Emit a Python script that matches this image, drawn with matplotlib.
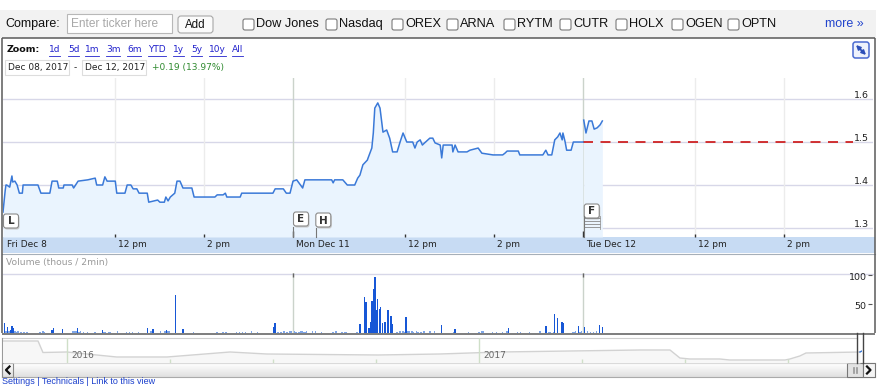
import numpy as np
import matplotlib.pyplot as plt
from matplotlib.patches import Rectangle, FancyBboxPatch

plt.rcParams['font.family'] = ['DejaVu Sans']

# ---- data (minutes since Fri 9:30, 390 per session) ----
sess_t = [0, 3, 4, 5, 9, 12, 13, 16, 19, 22, 26, 27, 47, 51, 63, 66, 73, 75, 81, 82, 93, 95, 101, 114,
          124, 126, 134, 137, 140, 151, 153, 164, 167, 172, 175, 180, 183, 194, 196, 208, 211, 217,
          219, 222, 225, 231, 234, 238, 242, 254, 257, 285, 288, 296, 299, 301, 319, 321, 363, 366,
          377, 381, 386, 390,
          395, 403, 406, 442, 444, 446, 457, 463, 473, 477, 480, 484, 490, 491, 496, 498, 500, 504,
          507, 511, 516, 520, 524, 530, 534, 538, 543, 551, 554, 557, 561, 564, 567, 574, 578, 581,
          588, 590, 592, 604, 605, 608, 612, 624, 628, 639, 644, 659, 672, 675, 678, 693, 695, 726,
          730, 733, 738, 742, 746, 749, 752, 753, 756, 758, 764, 767, 780]
sess_p = [1.337, 1.388, 1.400, 1.400, 1.395, 1.421, 1.407, 1.409, 1.400, 1.381, 1.381, 1.400, 1.400,
          1.381, 1.381, 1.409, 1.409, 1.393, 1.393, 1.400, 1.400, 1.393, 1.409, 1.412, 1.416, 1.400,
          1.400, 1.419, 1.409, 1.409, 1.381, 1.381, 1.400, 1.400, 1.391, 1.391, 1.381, 1.381, 1.360,
          1.365, 1.360, 1.360, 1.372, 1.363, 1.372, 1.381, 1.409, 1.409, 1.393, 1.393, 1.372, 1.372,
          1.377, 1.377, 1.381, 1.372, 1.372, 1.381, 1.381, 1.391, 1.391, 1.381, 1.381, 1.409,
          1.412, 1.393, 1.412, 1.412, 1.405, 1.412, 1.412, 1.400, 1.400, 1.416, 1.423, 1.447, 1.458,
          1.463, 1.486, 1.521, 1.579, 1.591, 1.579, 1.523, 1.528, 1.509, 1.477, 1.477, 1.500, 1.521,
          1.500, 1.500, 1.486, 1.500, 1.505, 1.493, 1.498, 1.509, 1.509, 1.498, 1.493, 1.463, 1.493,
          1.493, 1.477, 1.493, 1.477, 1.477, 1.481, 1.486, 1.474, 1.470, 1.470, 1.474, 1.479, 1.479,
          1.470, 1.470, 1.481, 1.470, 1.470, 1.505, 1.512, 1.521, 1.505, 1.521, 1.500, 1.481, 1.481,
          1.500, 1.500]
tue_t = [781, 784, 788, 792, 795, 799, 803, 806]
tue_p = [1.551, 1.521, 1.549, 1.549, 1.530, 1.533, 1.540, 1.549]
prev_close = 1.50

vol_t = [2, 4, 6, 8, 10, 12, 14, 16, 18, 20, 24, 28, 32, 50, 54, 56, 66, 68, 80, 94, 96, 98, 100, 102,
         104, 108, 114, 124, 134, 136, 138, 142, 144, 154, 166, 170, 174, 182, 194, 198, 200, 202,
         212, 218, 220, 222, 224, 232, 242, 256, 288, 296, 300, 314, 318, 322, 326, 334, 342, 364,
         366, 370, 374, 378, 382, 386, 388,
         392, 394, 398, 400, 402, 404, 406, 408, 416, 420, 428, 444, 448, 456, 460, 462, 476, 480,
         486, 488, 492, 494, 496, 498, 500, 502, 504, 506, 508, 510, 514, 518, 522, 524, 530, 534,
         538, 540, 542, 544, 546, 550, 552, 556, 558, 562, 566, 574, 580, 590, 606, 608, 626, 640,
         644, 646, 658, 664, 672, 678, 680, 692, 696, 708, 722, 730, 734, 736, 740, 742, 746, 752,
         754, 766, 768, 770, 774, 776, 778,
         782, 786, 790, 794, 798, 802, 806]
vol_v = [17, 3, 10, 4, 5, 12, 9, 3, 2, 3, 2, 2, 2, 2, 3, 2, 5, 8, 7, 3, 4, 3, 9, 2,
         3, 2, 2, 1, 5, 2, 2, 2, 2, 3, 2, 2, 2, 2, 8, 3, 4, 7,
         3, 3, 5, 4, 3, 65, 7, 2, 2, 2, 2, 2, 2, 2, 2, 3, 2, 10,
         17, 2, 2, 3, 2, 3, 4,
         3, 2, 2, 4, 3, 2, 2, 3, 3, 4, 2, 1, 3, 2, 2, 2, 2, 16,
         62, 53, 8, 19, 55, 76, 97, 40, 59, 41, 45, 17, 19, 40, 29, 16, 2, 4,
         3, 2, 28, 3, 4, 3, 2, 3, 2, 2, 3, 3, 3, 14, 1, 7, 2, 2,
         4, 3, 2, 2, 2, 3, 9, 2, 2, 2, 3, 12, 2, 2, 2, 33, 26, 19,
         17, 2, 2, 3, 12, 2, 3,
         10, 3, 2, 2, 3, 13, 11]

nav_year = [2015.845, 2015.93, 2015.942, 2016.0, 2016.121, 2016.243, 2016.396, 2016.485, 2016.755,
            2016.905, 2017.051, 2017.391, 2017.464, 2017.488, 2017.512, 2017.585, 2017.609,
            2017.743, 2017.755, 2017.779, 2017.794, 2017.925]
nav_val = [22, 22, 10.5, 11, 6, 6, 11, 9, 8, 9, 11, 13, 13, 5, 4, 4, 3, 3, 4, 7, 10, 11]

price_ticks = [1.3, 1.4, 1.5, 1.6]
vol_ticks = [50, 100]
minor_times = [150, 270, 540, 660, 930, 1050]
day_times = [390, 780]
time_ticks = [0, 150, 270, 390, 540, 660, 780, 930, 1050]
time_labels = ['Fri Dec 8', '12 pm', '2 pm', 'Mon Dec 11', '12 pm', '2 pm', 'Tue Dec 12', '12 pm', '2 pm']
compare_names = ['Dow Jones', 'Nasdaq', 'OREX', 'ARNA', 'RYTM', 'CUTR', 'HOLX', 'OGEN', 'OPTN']
zoom_links = ['1d', '5d', '1m', '3m', '6m', 'YTD', '1y', '5y', '10y', 'All']
events = [('L', 0), ('E', 390), ('H', 420), ('F', 781)]

W, H = 887, 387
fig = plt.figure(figsize=(W / 100, H / 100), dpi=100)


def box(x0, y0, x1, y1):
    return [x0 / W, 1 - y1 / H, (x1 - x0) / W, (y1 - y0) / H]


def m2px(m):
    return 3 + m * 870 / 1170


bg = fig.add_axes([0, 0, 1, 1], zorder=0)
fg = fig.add_axes([0, 0, 1, 1], zorder=5)
for a in (bg, fg):
    a.axis('off')

# ---- compare bar ----
AR = ['Liberation Sans', 'DejaVu Sans']
bg.add_patch(Rectangle((0, 10), 876, 28, fc='#f2f2f2', ec='none'))
bg.text(5, 24, 'Compare:', family=AR, fontsize=9, va='center', color='#111')
bg.add_patch(Rectangle((67, 14), 105, 19, fc='white', ec='#b8b8b8', lw=0.8))
bg.text(71, 24, 'Enter ticker here', family=AR, fontsize=8.6, va='center', color='#a8a8a8')
bg.add_patch(FancyBboxPatch((178, 16), 35, 17, boxstyle='round,pad=0,rounding_size=3',
                            fc='#fbfbfb', ec='#a8a8a8', lw=0.8))
bg.text(195.5, 24.5, 'Add', family=AR, fontsize=8.3, ha='center', va='center', color='#111')
chk_x = [243, 326, 392, 447, 504, 560, 616, 672, 728]
for cx, name in zip(chk_x, compare_names):
    bg.add_patch(FancyBboxPatch((cx, 19), 11, 11, boxstyle='round,pad=0,rounding_size=2',
                                fc='white', ec='#7a7a7a', lw=0.8))
    bg.text(cx + 13, 24, name, family=AR, fontsize=9.2, va='center', color='#111')
bg.text(825, 24, 'more \u00bb', family=AR, fontsize=9, va='center', color='#2244cc')

# ---- zoom / date rows ----
bg.text(7, 50, 'Zoom:', fontsize=6.8, fontweight='bold', va='center', color='#111')
zoom_x = [49, 68, 85, 106, 127, 148, 173, 191, 209, 232]
link_txt = [bg.text(x, 50, s, fontsize=6.5, va='center', color='#2222cc')
            for x, s in zip(zoom_x, zoom_links)]
bg.add_patch(Rectangle((5, 60), 64, 15, fc='white', ec='#dddddd', lw=0.8))
bg.text(8, 67.5, 'Dec 08, 2017', fontsize=6.5, va='center', color='#222')
bg.text(74, 67.5, '-', fontsize=6.5, va='center', color='#222')
bg.add_patch(Rectangle((82, 60), 64, 15, fc='white', ec='#dddddd', lw=0.8))
bg.text(85, 67.5, 'Dec 12, 2017', fontsize=6.5, va='center', color='#222')
bg.text(152, 67.5, '+0.19 (13.97%)', fontsize=6.5, va='center', color='#2f8a2f')

# expand icon
bg.add_patch(FancyBboxPatch((853, 42), 16, 16, boxstyle='round,pad=0,rounding_size=2.5',
                            fc='#eef2fc', ec='#4a6ad0', lw=1.1))
bg.annotate('', xy=(866, 55), xytext=(856, 45),
            arrowprops=dict(arrowstyle='<|-|>', color='#2d4fb8', lw=1.3,
                            mutation_scale=6, shrinkA=0, shrinkB=0))

# ---- price chart ----
pax = fig.add_axes(box(3, 78, 873, 237), zorder=2)
pax.set_facecolor('none')
pax.set_xlim(0, 1170)
pax.set_ylim(1.279, 1.649)
for s in pax.spines.values():
    s.set_visible(False)
pax.set_xticks([])
pax.set_yticks([])
for v in price_ticks:
    pax.axhline(v, color='#d7d7e8', lw=1, zorder=0)
for t in minor_times:
    pax.axvline(t, color='#ececec', lw=1, zorder=0)
for t in day_times:
    pax.axvline(t, color='#cbd3cb', lw=1, zorder=0)
pax.fill_between(sess_t, sess_p, 1.279, color='#eaf4fe', lw=0, zorder=1)
pax.fill_between(tue_t, tue_p, 1.279, color='#eaf4fe', lw=0, zorder=1)
pax.plot(sess_t, sess_p, color='#3a79d8', lw=1.1, zorder=3)
pax.plot(tue_t, tue_p, color='#3a79d8', lw=1.1, zorder=3)
pax.hlines(prev_close, 780, 1143, colors='#cc1111', linestyles=(0, (6, 4.5)), lw=1.2, zorder=2)
for v in price_ticks:
    pax.text(0.9955, v + 0.0023, f'{v:.1f}', transform=pax.get_yaxis_transform(),
             ha='right', va='baseline', fontsize=6.8, color='#222')

# time band
bg.add_patch(Rectangle((3, 237), 872, 16, fc='#c7dbf3', ec='none'))
bg.plot([2, 875], [253.5, 253.5], color='#a6afb8', lw=0.8)
xt = pax.get_xaxis_transform()
for t, lab in zip(time_ticks, time_labels):
    top = 0.04 if t in day_times else 0.02
    if t > 0:
        pax.vlines(t, 0, top, transform=xt, color='#333', lw=1, clip_on=False)
    pax.text(t + (5 if t == 0 else 4), -0.05, lab, transform=xt, fontsize=6.5,
             va='center', ha='left', color='#222', clip_on=False)

# event flags
for letter, m in events:
    x0 = m2px(m)
    if letter == 'F':
        y0 = 204
        for k in range(4):
            fg.plot([x0 + 0.5, x0 + 16], [218 + 3 * k, 218 + 3 * k], color='#888', lw=0.6)
        fg.plot([x0 + 0.5, x0 + 0.5], [216, 237], color='#777', lw=0.8)
        fg.plot([x0 + 16, x0 + 16], [216, 229], color='#999', lw=0.6)
    else:
        y0 = {'L': 214, 'E': 212, 'H': 213}[letter]
        if letter != 'L':
            fg.plot([x0 + 0.5, x0 + 0.5], [y0 + 15, 237], color='#777', lw=0.8)
    fg.add_patch(FancyBboxPatch((x0 + 1.5, y0 + 1.5), 15, 14,
                                boxstyle='round,pad=0,rounding_size=2.5',
                                fc='#c8c8c8', ec='none'))
    fg.add_patch(FancyBboxPatch((x0 + 0.5, y0), 15, 14, boxstyle='round,pad=0,rounding_size=2.5',
                                fc='white', ec='#8a8a8a', lw=0.8))
    fg.text(x0 + 8, y0 + 7.5, letter, fontsize=7.5, fontweight='bold', ha='center',
            va='center', color='#333')

# ---- volume chart ----
bg.text(6, 263, 'Volume (thous / 2min)', fontsize=6.6, va='center', color='#999')
bg.plot([3, 873], [273.5, 273.5], color='#d7d7e8', lw=1)
vax = fig.add_axes(box(3, 273, 873, 333), zorder=2)
vax.set_facecolor('none')
vax.set_xlim(0, 1170)
vax.set_ylim(0, 103.4)
for s in vax.spines.values():
    s.set_visible(False)
vax.set_xticks([])
vax.set_yticks([])
for t in day_times:
    vax.axvline(t, color='#cbd3cb', lw=1, zorder=0)
    vax.vlines(t, 0.94, 1.0, transform=vax.get_xaxis_transform(), color='#666', lw=1)
bar_col = ['#1757d6' if v >= 5 else '#7fa6e8' for v in vol_v]
vax.bar(vol_t, vol_v, width=1.9, color=bar_col, lw=0, zorder=2)
yt = vax.get_yaxis_transform()
for v in vol_ticks:
    vax.text(0.9925, v - 4, str(v), transform=yt, ha='right', va='center', fontsize=6.8,
             color='#222')
    vax.hlines(v, 0.9945, 0.999, transform=yt, color='#555', lw=0.8)

# main frame
for xs, ys in [([2, 875], [38, 38]), ([2, 2], [38, 333]), ([875, 875], [38, 333]),
               ([2, 875], [333.5, 333.5])]:
    fg.plot(xs, ys, color='#5a5a5a', lw=1.1, solid_capstyle='butt')

# ---- navigator ----
nax = fig.add_axes(box(3, 338, 862, 363), zorder=2)
nax.set_facecolor('none')
nax.set_xlim(2015.845, 2017.93)
nax.set_ylim(0, 25)
for s in nax.spines.values():
    s.set_visible(False)
nax.set_xticks([])
nax.set_yticks([])
nax.fill_between(nav_year, nav_val, 0, color='#f7f7f7', lw=0)
nax.plot(nav_year, nav_val, color='#d2d2d2', lw=1)
nxt = nax.get_xaxis_transform()
for yr in [2016, 2017]:
    nax.axvline(yr, color='#cfdfc8', lw=1)
    nax.text(yr + 0.012, 0.28, str(yr), transform=nxt, fontsize=6.5, va='center', color='#666')
for q in [2016.25, 2016.5, 2016.75, 2017.25, 2017.5, 2017.75]:
    nax.vlines(q, 0, 0.16, transform=nxt, color='#cfdfc8', lw=1)
nax.plot([2017.925, 2017.93], [11, 12], color='#3a79d8', lw=1)

bg.plot([2, 857], [338, 338], color='#cfcfcf', lw=0.8)
bg.plot([2, 875], [363, 363], color='#bdbdbd', lw=0.8)
bg.plot([2, 2], [338, 377], color='#9a9a9a', lw=0.8)
fg.plot([857, 857], [333, 363], color='#444', lw=1)
fg.plot([863, 863], [333, 363], color='#444', lw=1)

# scrollbar
grad = np.linspace(1.0, 0.88, 16)
img = np.repeat(grad[:, None, None], 3, axis=2)
bg.imshow(img, extent=[2, 875, 377, 363], aspect='auto', zorder=1)
bg.plot([2, 875], [377, 377], color='#aaaaaa', lw=0.8)
bg.add_patch(Rectangle((2, 363), 11, 14, fc='none', ec='#8a8a8a', lw=0.8, zorder=2))
bg.plot([9.5, 6, 9.5], [366.5, 370, 373.5], color='#111', lw=1.6, zorder=3)
bg.add_patch(Rectangle((847, 363), 16, 14, fc='#e2e2e2', ec='#777', lw=0.8, zorder=2))
for k in range(4):
    bg.plot([853 + 1.5 * k, 853 + 1.5 * k], [367, 373], color='#888', lw=0.5, zorder=3)
bg.add_patch(Rectangle((863, 363), 12, 14, fc='#f4f4f4', ec='#777', lw=0.8, zorder=2))
bg.plot([867, 870.5, 867], [366.5, 370, 373.5], color='#111', lw=1.6, zorder=3)

bg.text(2, 386.5, 'Settings | Technicals | Link to this view', family=AR, fontsize=6.5,
        va='bottom', color='#1a3fcc')

for a in (bg, fg):
    a.set_xlim(0, W)
    a.set_ylim(H, 0)

# underline zoom links
fig.canvas.draw()
r = fig.canvas.get_renderer()
for t in link_txt:
    bb = t.get_window_extent(r)
    bg.plot([bb.x0, bb.x1], [55.5, 55.5], color='#2222cc', lw=0.6)
bg.set_xlim(0, W)
bg.set_ylim(H, 0)

fig.savefig('out.png', dpi=100)
